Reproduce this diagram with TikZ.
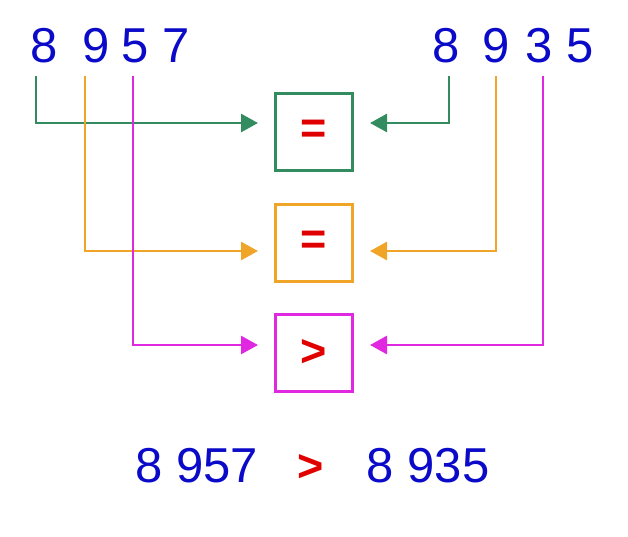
\documentclass[tikz,border=0pt]{standalone}
\usepackage{fontspec}
\setmainfont{Liberation Sans}
\usepackage{xcolor}
\usepackage{tikz}
\usetikzlibrary{arrows.meta, positioning}

\definecolor{digitblue}{RGB}{10,10,200}
\definecolor{signred}{RGB}{225,0,0}
\definecolor{linkgreen}{RGB}{50,140,95}
\definecolor{linkorange}{RGB}{240,165,40}
\definecolor{linkmagenta}{RGB}{225,40,225}

\begin{document}
\begin{tikzpicture}[
  x=1pt, y=-1pt,
  digit/.style={text=digitblue, inner sep=0pt, anchor=base, font=\fontsize{49}{49}\selectfont},
  cmpbox/.style={draw, line width=3pt, minimum size=77pt, inner sep=0pt, fill=white, text=signred, font=\fontsize{45}{45}\selectfont\bfseries},
  link/.style={line width=2.8pt, shorten >=16pt, -{Triangle[length=17pt, width=18pt]}}
]
\useasboundingbox (0,0) rectangle (628,536);

% --- First number ---
\node[digit] (l8) at (44,62) {8};
\node[digit] (l9) at (96,62) {9};
\node[digit] (l5) at (135,62) {5};
\node[digit] (l7) at (176,62) {7};

% --- Second number ---
\node[digit] (r8) at (446,62) {8};
\node[digit] (r9) at (496,62) {9};
\node[digit] (r3) at (539,62) {3};
\node[digit] (r5) at (580,62) {5};

% --- Comparison boxes ---
\node[cmpbox, draw=linkgreen] (eq1) at (314,132) {=};
\node[cmpbox, draw=linkorange] (eq2) at (314,243) {=};
\node[cmpbox, draw=linkmagenta] (gt3) at (314,353) {>};

% --- Line starts under the digits ---
\coordinate (gl) at (36,76);
\coordinate (ol) at (85,76);
\coordinate (ml) at (133,76);
\coordinate (gr) at (449,76);
\coordinate (or) at (496,76);
\coordinate (mr) at (543,76);

% --- Connectors ---
\draw[link, linkgreen] (gl) |- ([yshift=9pt]eq1.west);
\draw[link, linkgreen] (gr) |- ([yshift=9pt]eq1.east);
\draw[link, linkorange] (ol) |- ([yshift=-8pt]eq2.west);
\draw[link, linkorange] (or) |- ([yshift=-8pt]eq2.east);
\draw[link, linkmagenta] (ml) |- ([yshift=8pt]gt3.west);
\draw[link, linkmagenta] (mr) |- ([yshift=8pt]gt3.east);

% --- Result ---
\node[digit] (numa) at (197,482) {8 957};
\node[digit, text=signred, font=\fontsize{45}{45}\selectfont\bfseries] (res) at (311,481) {>};
\node[digit] (numb) at (428,482) {8 935};

\end{tikzpicture}
\end{document}
